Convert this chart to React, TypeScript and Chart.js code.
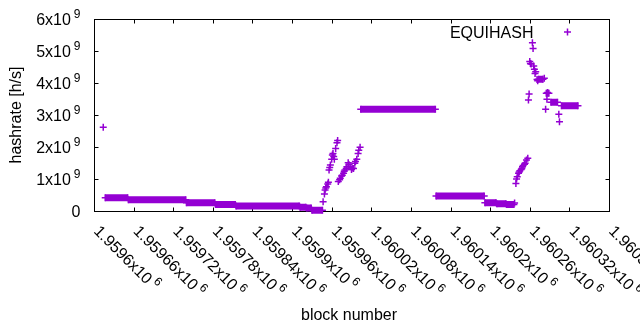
import React, { useEffect, useRef } from "react";
import { Chart, registerables } from "chart.js";

Chart.register(...registerables);

const COLOR = "#9400d3";
const FONT = "'Liberation Sans', Arial, sans-serif";

// Constant-hashrate runs (first block, last block, value)
const runStart = [1959617, 1959652, 1959740, 1959784, 1959815, 1959912, 1959922, 1959930, 1960004, 1960118, 1960192, 1960210, 1960225, 1960273, 1960285, 1960292, 1960308];
const runEnd = [1959651, 1959739, 1959783, 1959814, 1959911, 1959921, 1959929, 1959946, 1960117, 1960191, 1960209, 1960224, 1960236, 1960280, 1960289, 1960302, 1960333];
const runValue = [0.415e9, 0.355e9, 0.26e9, 0.2e9, 0.16e9, 0.12e9, 0.09e9, 0.02e9, 3.18e9, 0.47e9, 0.26e9, 0.23e9, 0.2e9, 4.12e9, 3.68e9, 3.4e9, 3.29e9];

// Individual blocks
const pointBlock = [
  1959614,
  1959947, 1959949, 1959950, 1959951, 1959952, 1959954, 1959955, 1959956, 1959957, 1959958,
  1959960, 1959961, 1959962, 1959963, 1959964, 1959966, 1959968, 1959969,
  1959970, 1959972, 1959973, 1959975, 1959976, 1959978, 1959979, 1959980, 1959982, 1959983,
  1959985, 1959986, 1959988, 1959990, 1959991, 1959993, 1959995, 1959996, 1959998, 1960000,
  1960001, 1960003,
  1960237, 1960239, 1960240, 1960241, 1960243, 1960244, 1960245, 1960247, 1960248, 1960249,
  1960250, 1960252, 1960253, 1960255, 1960257,
  1960258, 1960259, 1960260, 1960261, 1960262, 1960264, 1960265, 1960266, 1960267, 1960268,
  1960269, 1960271, 1960272, 1960282, 1960284, 1960286, 1960287, 1960304, 1960305,
];
const pointValue = [
  2.62e9,
  0.29e9, 0.53e9, 0.66e9, 0.72e9, 0.76e9, 0.84e9, 0.9e9, 1.28e9, 1.36e9, 1.44e9,
  1.62e9, 1.75e9, 1.8e9, 1.7e9, 1.62e9, 1.95e9, 2.13e9, 2.2e9,
  0.92e9, 0.98e9, 1.02e9, 1.09e9, 1.12e9, 1.18e9, 1.24e9, 1.28e9, 1.33e9, 1.38e9,
  1.51e9, 1.45e9, 1.38e9, 1.3e9, 1.34e9, 1.33e9, 1.49e9, 1.55e9, 1.62e9, 1.8e9,
  1.9e9, 1.99e9,
  0.25e9, 0.86e9, 1.0e9, 1.07e9, 1.18e9, 1.22e9, 1.26e9, 1.3e9, 1.33e9, 1.38e9,
  1.42e9, 1.46e9, 1.49e9, 1.59e9, 1.65e9,
  3.47e9, 3.66e9, 4.67e9, 4.61e9, 4.59e9, 5.26e9, 5.08e9, 4.53e9, 4.43e9, 4.3e9,
  4.35e9, 4.11e9, 4.07e9, 4.15e9, 3.18e9, 3.49e9, 3.7e9, 3.02e9, 2.79e9,
];

const xTickValues = [1959600, 1959660, 1959720, 1959780, 1959840, 1959900, 1959960, 1960020, 1960080, 1960140, 1960200, 1960260, 1960320, 1960380];
const xTickMain = ["1.9596x10", "1.95966x10", "1.95972x10", "1.95978x10", "1.95984x10", "1.9599x10", "1.95996x10", "1.96002x10", "1.96008x10", "1.96014x10", "1.9602x10", "1.96026x10", "1.96032x10", "1.96038x10"];
const xTickSup = "6";
const yTickValues = [0, 1e9, 2e9, 3e9, 4e9, 5e9, 6e9];
const yTickMain = ["0", "1x10", "2x10", "3x10", "4x10", "5x10", "6x10"];
const yTickSup = ["", "9", "9", "9", "9", "9", "9"];
const legendLabel = "EQUIHASH";
const xTitle = "block number";
const yTitle = "hashrate [h/s]";

const gnuplotPlugin = {
  id: "gnuplotFrame",
  beforeDatasetsDraw(chart: any) {
    const { ctx, chartArea: a, scales } = chart;
    const xs = scales.x;
    const ys = scales.y;
    ctx.save();
    ctx.strokeStyle = "#000";
    ctx.lineWidth = 1;
    ctx.beginPath();
    for (const v of yTickValues) {
      const py = Math.round(ys.getPixelForValue(v)) + 0.5;
      ctx.moveTo(a.left, py);
      ctx.lineTo(a.left + 4.5, py);
      ctx.moveTo(a.right + 1, py);
      ctx.lineTo(a.right - 3.5, py);
    }
    for (const v of xTickValues) {
      const px = Math.round(xs.getPixelForValue(v)) + 0.5;
      ctx.moveTo(px, a.bottom + 1);
      ctx.lineTo(px, a.bottom - 3.5);
      ctx.moveTo(px, a.top);
      ctx.lineTo(px, a.top + 4.5);
    }
    ctx.stroke();
    ctx.strokeRect(a.left + 0.5, a.top + 0.5, a.right - a.left, a.bottom - a.top);
    ctx.restore();
  },
  afterDraw(chart: any) {
    const { ctx, chartArea: a, scales } = chart;
    const xs = scales.x;
    const ys = scales.y;
    ctx.save();
    ctx.fillStyle = "#000";
    ctx.textBaseline = "alphabetic";
    ctx.textAlign = "left";
    // y tick labels
    yTickValues.forEach((v, i) => {
      const py = ys.getPixelForValue(v);
      const main = yTickMain[i];
      const sup = yTickSup[i];
      ctx.font = `16px ${FONT}`;
      const mw = ctx.measureText(main).width;
      ctx.font = `12px ${FONT}`;
      const sw = sup ? ctx.measureText(sup).width + 3 : 0;
      const right = a.left - 13.5;
      ctx.font = `16px ${FONT}`;
      ctx.fillText(main, right - sw - mw, py + 5.5);
      if (sup) {
        ctx.font = `12px ${FONT}`;
        ctx.fillText(sup, right - sw + 3, py - 1.5);
      }
    });
    // x tick labels
    xTickValues.forEach((v, i) => {
      const px = xs.getPixelForValue(v);
      ctx.save();
      ctx.translate(px - 1, a.bottom + 21);
      ctx.rotate(Math.PI / 4);
      ctx.font = `16px ${FONT}`;
      ctx.fillText(xTickMain[i], 0, 0);
      const mw = ctx.measureText(xTickMain[i]).width;
      ctx.font = `12px ${FONT}`;
      ctx.fillText(xTickSup, mw + 3, -7);
      ctx.restore();
    });
    // axis titles
    ctx.font = `16px ${FONT}`;
    ctx.textAlign = "center";
    ctx.fillText(xTitle, 349, 320);
    ctx.save();
    ctx.translate(16.5, (a.top + a.bottom) / 2);
    ctx.rotate(-Math.PI / 2);
    ctx.textBaseline = "middle";
    ctx.fillText(yTitle, 0, 0);
    ctx.restore();
    // legend
    ctx.textAlign = "right";
    ctx.textBaseline = "alphabetic";
    ctx.fillText(legendLabel, 533.5, 37.5);
    ctx.strokeStyle = COLOR;
    ctx.lineWidth = 1.5;
    ctx.beginPath();
    ctx.moveTo(564, 32);
    ctx.lineTo(571, 32);
    ctx.moveTo(567.5, 28.5);
    ctx.lineTo(567.5, 35.5);
    ctx.stroke();
    ctx.restore();
  },
};

export default function App() {
  const ref = useRef<HTMLCanvasElement>(null);
  useEffect(() => {
    const runData: any[] = [];
    runStart.forEach((s, i) => {
      runData.push({ x: s, y: runValue[i] });
      runData.push({ x: runEnd[i], y: runValue[i] });
      runData.push({ x: runEnd[i], y: null });
    });
    const pts = pointBlock.map((b, i) => ({ x: b, y: pointValue[i] }));
    const chart = new Chart(ref.current as HTMLCanvasElement, {
      type: "scatter",
      data: {
        datasets: [
          {
            label: legendLabel,
            data: runData,
            showLine: true,
            spanGaps: false,
            borderColor: COLOR,
            backgroundColor: COLOR,
            borderWidth: 7,
            borderCapStyle: "butt",
            pointStyle: "cross",
            pointRadius: 3.5,
            pointBorderWidth: 1.5,
            pointBorderColor: COLOR,
            pointBackgroundColor: COLOR,
            clip: false,
          } as any,
          {
            label: legendLabel,
            data: pts,
            showLine: false,
            pointStyle: "cross",
            pointRadius: 3.5,
            pointBorderWidth: 1.5,
            pointBorderColor: COLOR,
            pointBackgroundColor: COLOR,
            clip: false,
          } as any,
        ],
      },
      options: {
        responsive: false,
        animation: false,
        events: [],
        layout: { padding: { top: 19, right: 31, left: 0, bottom: 0 } },
        plugins: { legend: { display: false }, tooltip: { enabled: false } },
        scales: {
          x: {
            type: "linear",
            min: 1959600,
            max: 1960380,
            grid: { display: false },
            border: { display: false },
            ticks: { display: false },
            afterBuildTicks: (s: any) => {
              s.ticks = xTickValues.map((v) => ({ value: v }));
            },
            afterFit: (s: any) => {
              s.height = 119;
            },
          },
          y: {
            type: "linear",
            min: 0,
            max: 6e9,
            grid: { display: false },
            border: { display: false },
            ticks: { display: false },
            afterBuildTicks: (s: any) => {
              s.ticks = yTickValues.map((v) => ({ value: v }));
            },
            afterFit: (s: any) => {
              s.width = 94;
            },
          },
        },
      } as any,
      plugins: [gnuplotPlugin],
    });
    return () => chart.destroy();
  }, []);
  return (
    <div style={{ position: "absolute", left: 0, top: 0, width: 640, height: 330, background: "#fff" }}>
      <canvas ref={ref} width={640} height={330} style={{ display: "block", width: 640, height: 330 }} />
    </div>
  );
}
